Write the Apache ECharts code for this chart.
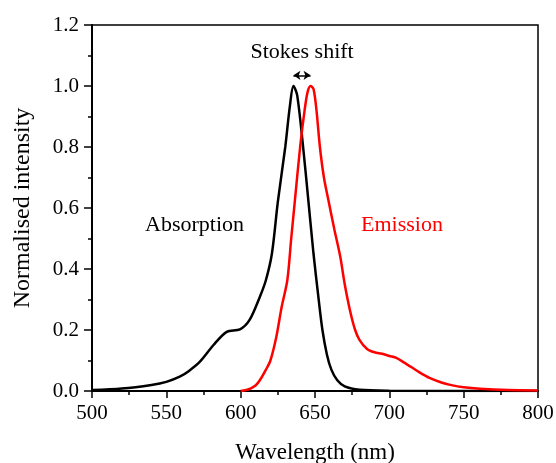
<!DOCTYPE html>
<html>
<head>
<meta charset="utf-8">
<script src="https://cdn.jsdelivr.net/npm/echarts@6/dist/echarts.min.js"></script>
<style>html,body{margin:0;padding:0;background:#fff;}#c{width:556px;height:463px;}</style>
</head>
<body>
<div id="c"></div>
<script>
const absWavelength = [500, 520, 540, 550, 559, 565, 572.6, 581.6, 590.6, 599.5, 606, 613, 617, 621, 625, 630, 633, 635.5, 638, 642, 645.5, 649, 652, 655, 658, 661, 665, 670, 680, 700, 800];
const absIntensity  = [0.003, 0.008, 0.02, 0.03, 0.047, 0.065, 0.096, 0.15, 0.194, 0.202, 0.233, 0.31, 0.364, 0.45, 0.62, 0.80, 0.93, 1.0, 0.97, 0.80, 0.626, 0.45, 0.32, 0.2, 0.12, 0.07, 0.035, 0.015, 0.004, 0.001, 0.0];
const emWavelength = [600, 605, 610, 613, 617, 620, 624, 627.6, 631.4, 634, 636.5, 640, 643, 645, 647, 649, 651, 653.3, 656, 659, 663, 667, 670, 673.5, 677, 680, 685, 690, 695, 700, 705, 710, 715, 720, 727, 735, 741, 750, 761, 780, 800];
const emIntensity  = [0.0, 0.005, 0.018, 0.036, 0.07, 0.10, 0.178, 0.276, 0.364, 0.5, 0.626, 0.80, 0.92, 0.98, 1.0, 0.99, 0.92, 0.80, 0.70, 0.626, 0.53, 0.44, 0.35, 0.265, 0.2, 0.167, 0.138, 0.127, 0.122, 0.115, 0.108, 0.093, 0.078, 0.062, 0.043, 0.028, 0.02, 0.012, 0.007, 0.003, 0.002];
const stokesPeaks = [635.5, 647];
const stokesLevel = 1.035;

const font = 'Liberation Serif';
const chart = echarts.init(document.getElementById('c'), null, {renderer: 'canvas'});
const zip = (xs, ys) => xs.map((x, i) => [x, ys[i]]);

chart.setOption({
  animation: false,
  textStyle: {fontFamily: font},
  grid: {left: 92, right: 18, top: 25, bottom: 72, containLabel: false, outerBoundsMode: 'none',
         show: true, borderColor: '#000', borderWidth: 1.5, backgroundColor: 'transparent'},
  xAxis: {
    type: 'value', min: 500, max: 800, interval: 50,
    name: 'Wavelength (nm)', nameLocation: 'middle', nameGap: 50,
    nameTextStyle: {fontFamily: font, fontSize: 23, color: '#000'},
    axisLine: {show: true, onZero: false, lineStyle: {color: '#000', width: 2}},
    axisTick: {show: true, inside: false, length: 7, lineStyle: {color: '#000', width: 1.5}},
    minorTick: {show: true, splitNumber: 2, length: 4, lineStyle: {color: '#000', width: 1.5}},
    splitLine: {show: false},
    axisLabel: {fontFamily: font, fontSize: 21, color: '#000', margin: 12}
  },
  yAxis: {
    type: 'value', min: 0, max: 1.2, interval: 0.2,
    name: 'Normalised intensity', nameLocation: 'middle', nameGap: 57, nameRotate: 90,
    nameTextStyle: {fontFamily: font, fontSize: 24, color: '#000'},
    axisLine: {show: true, onZero: false, lineStyle: {color: '#000', width: 2}},
    axisTick: {show: true, inside: false, length: 8, lineStyle: {color: '#000', width: 1.5}},
    minorTick: {show: true, splitNumber: 2, length: 4, lineStyle: {color: '#000', width: 1.5}},
    splitLine: {show: false},
    axisLabel: {fontFamily: font, fontSize: 21, color: '#000', margin: 13, formatter: v => v.toFixed(1)}
  },
  series: [
    {
      type: 'line', name: 'Absorption', data: zip(absWavelength, absIntensity),
      showSymbol: false, smooth: 0.3, lineStyle: {color: '#000', width: 2.5}, itemStyle: {color: '#000'},
      markLine: {
        silent: true, symbol: ['arrow', 'arrow'], symbolSize: [7, 7],
        lineStyle: {color: '#000', width: 1.5, type: 'solid'}, label: {show: false},
        data: [[{coord: [stokesPeaks[0], stokesLevel]}, {coord: [stokesPeaks[1], stokesLevel]}]]
      },
      markPoint: {
        silent: true, symbol: 'circle', symbolSize: 0,
        data: [
          {coord: [569, 0.545], label: {show: true, formatter: 'Absorption', color: '#000', fontFamily: font, fontSize: 22}},
          {coord: [641.3, 1.11], label: {show: true, formatter: 'Stokes shift', color: '#000', fontFamily: font, fontSize: 22}}
        ]
      }
    },
    {
      type: 'line', name: 'Emission', data: zip(emWavelength, emIntensity),
      showSymbol: false, smooth: 0.3, lineStyle: {color: '#ff0000', width: 2.5}, itemStyle: {color: '#ff0000'},
      markPoint: {
        silent: true, symbol: 'circle', symbolSize: 0,
        data: [
          {coord: [708.5, 0.545], label: {show: true, formatter: 'Emission', color: '#ff0000', fontFamily: font, fontSize: 22}}
        ]
      }
    }
  ]
});
</script>
</body>
</html>
